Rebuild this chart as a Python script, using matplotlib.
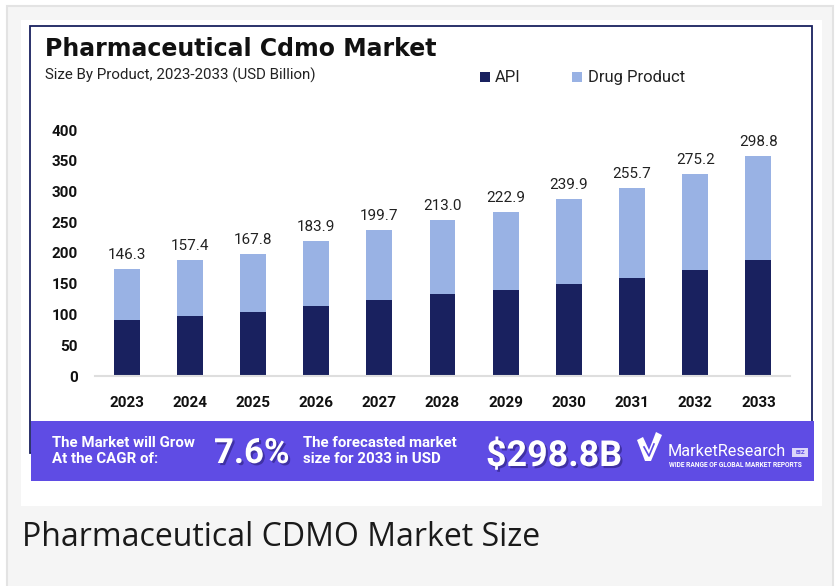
import matplotlib
matplotlib.use('agg')
import matplotlib.pyplot as plt
import matplotlib.patheffects as pe
from matplotlib.patches import Rectangle, Polygon
import numpy as np

# data (USD billion)
years = ['2023', '2024', '2025', '2026', '2027', '2028', '2029', '2030', '2031', '2032', '2033']
api = [91, 98, 104, 114, 124, 133, 140, 150, 160, 173, 188]
drug_product = [83, 90, 95, 105, 114, 121, 126, 137, 146, 156, 170]
total_labels = [146.3, 157.4, 167.8, 183.9, 199.7, 213.0, 222.9, 239.9, 255.7, 275.2, 298.8]
y_ticks = [0, 50, 100, 150, 200, 250, 300, 350, 400]

W, H = 838, 586
NAVY = '#19215f'
LIGHT = '#99b2e4'
PURPLE = '#5f4ce4'
BOLD = 'Roboto'

fig = plt.figure(figsize=(W / 100, H / 100), dpi=100)
fig.patch.set_facecolor('white')

# background axes in pixel coordinates for the frame / banner
bg = fig.add_axes([0, 0, 1, 1], zorder=0)
bg.set_xlim(0, W)
bg.set_ylim(H, 0)
bg.axis('off')

bg.add_patch(Rectangle((7, 6), 826, 590, facecolor='#f5f5f5', edgecolor='#e3e3e3', lw=1.5))
bg.add_patch(Rectangle((21, 20), 801, 486, facecolor='white', edgecolor='none'))
bg.add_patch(Rectangle((30, 26), 782, 427, facecolor='none', edgecolor=NAVY, lw=1.3))
bg.add_patch(Rectangle((31, 421), 783, 60, facecolor=PURPLE, edgecolor='none', zorder=3))

# titles
bg.text(45, 56, 'Pharmaceutical Cdmo Market', fontsize=17, fontweight='bold',
        family='DejaVu Sans', color='#111111', va='baseline')
bg.text(45, 80, 'Size By Product, 2023-2033 (USD Billion)', fontsize=10.9,
        family='Roboto', color='#222222', va='baseline')

# legend
bg.add_patch(Rectangle((480, 72), 10, 10, facecolor=NAVY, edgecolor='none'))
bg.text(495, 82, 'API', fontsize=12, family='Roboto', color='#222222', va='baseline')
bg.add_patch(Rectangle((572, 72), 10, 10, facecolor=LIGHT, edgecolor='none'))
bg.text(588, 82, 'Drug Product', fontsize=12, family='Roboto', color='#222222', va='baseline')

# banner texts
shadow = [pe.withSimplePatchShadow(offset=(1.5, -1.5), shadow_rgbFace='#2b1f7a', alpha=0.6)]
bg.text(52, 447, 'The Market will Grow', fontsize=10.8, fontweight='bold', family=BOLD,
        color='white', va='baseline', zorder=4)
bg.text(52, 463, 'At the CAGR of:', fontsize=10.8, fontweight='bold', family=BOLD,
        color='white', va='baseline', zorder=4)
bg.text(214, 463, '7.6%', fontsize=25, fontweight='bold', family=BOLD,
        color='white', va='baseline', zorder=4, path_effects=shadow)
bg.text(303, 447, 'The forecasted market', fontsize=10.8, fontweight='bold', family=BOLD,
        color='white', va='baseline', zorder=4)
bg.text(303, 463, 'size for 2033 in USD', fontsize=10.8, fontweight='bold', family=BOLD,
        color='white', va='baseline', zorder=4)
bg.text(486, 466, '$298.8B', fontsize=25.8, fontweight='bold', family=BOLD,
        color='white', va='baseline', zorder=4, path_effects=shadow)

# logo
bg.add_patch(Polygon([(637, 440), (643, 437), (649, 450), (656, 432), (662, 435),
                      (651, 461), (645, 461)], closed=True, facecolor='white',
                     edgecolor='none', zorder=4))
bg.plot([644, 649, 654], [447, 456, 444], color=PURPLE, lw=1.2, zorder=5)
bg.text(668, 456, 'MarketResearch', fontsize=11.7, family='Roboto',
        color='white', va='baseline', zorder=4)
bg.add_patch(Rectangle((792, 448), 16, 9, facecolor='#dcd6fa', edgecolor='none', zorder=4))
bg.text(800, 452.5, 'BIZ', fontsize=4.5, fontweight='bold', family=BOLD, color=PURPLE,
        ha='center', va='center', zorder=5)
bg.text(669, 465, 'WIDE RANGE OF GLOBAL MARKET REPORTS', fontsize=4.8, fontweight='bold',
        family=BOLD, color='white', va='center', zorder=4)

# caption
bg.text(22, 546, 'Pharmaceutical CDMO Market Size', fontsize=23, family='Open Sans',
        color='#1a1a1a', va='baseline')

# chart axes
ax = fig.add_axes([95 / W, 1 - 376 / H, 695 / W, 246 / H], zorder=2)
ax.patch.set_alpha(0)
x = np.arange(len(years))
ax.bar(x, api, width=0.41, color=NAVY, zorder=2)
ax.bar(x, drug_product, width=0.41, bottom=api, color=LIGHT, zorder=2)
tops = np.array(api) + np.array(drug_product)
for xi, top, lab in zip(x, tops, total_labels):
    ax.annotate(f'{lab:.1f}', (xi, top), xytext=(0, 10), textcoords='offset pixels',
                ha='center', va='baseline', fontsize=11, family='Roboto', color='#222222',
                annotation_clip=False)

ax.set_xlim(-0.5, 10.5)
ax.set_ylim(0, 400)
ax.set_yticks(y_ticks)
ax.set_xticks(x)
ax.set_xticklabels(years)
for s in ['top', 'right', 'left']:
    ax.spines[s].set_visible(False)
ax.spines['bottom'].set_color('#dedede')
ax.spines['bottom'].set_linewidth(1.5)
ax.tick_params(axis='both', length=0, labelsize=11, colors='#111111')
ax.tick_params(axis='y', pad=12.5)
ax.tick_params(axis='x', pad=14.5)
for lab in ax.get_xticklabels() + ax.get_yticklabels():
    lab.set_fontweight('bold')
    lab.set_family(BOLD)

fig.savefig('out.png', dpi=100)
